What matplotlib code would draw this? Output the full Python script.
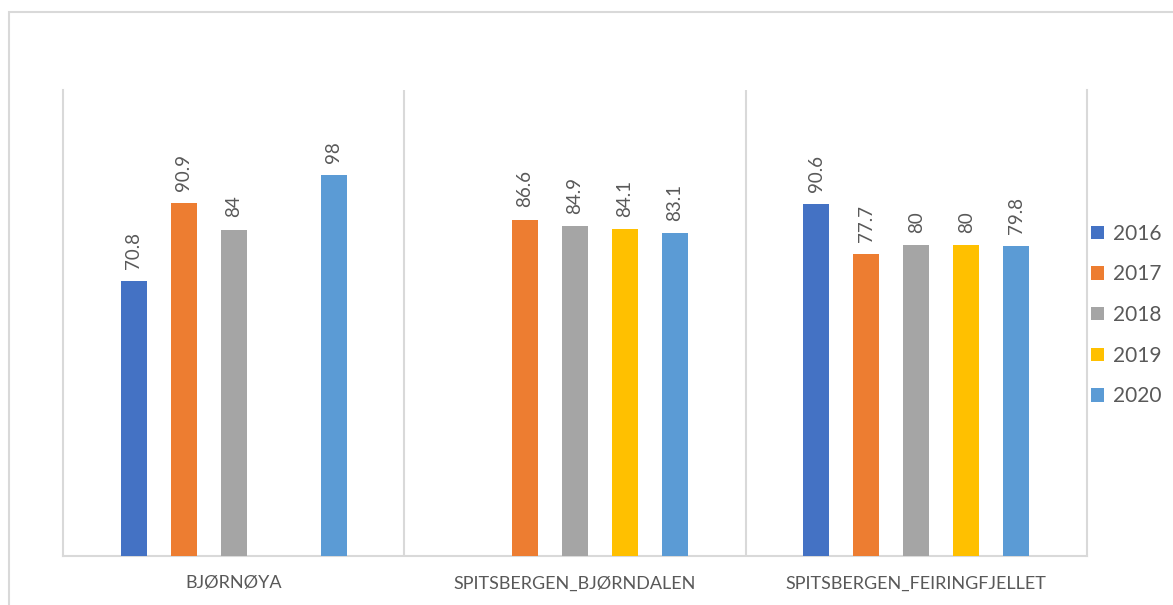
# -*- coding: utf-8 -*-
import numpy as np
import matplotlib
matplotlib.use("Agg")
import matplotlib.pyplot as plt
from matplotlib.patches import Rectangle

plt.rcParams["font.family"] = ["Lato", "DejaVu Sans"]

# dados
STASJONER = ["BJØRNØYA", "SPITSBERGEN_BJØRNDALEN", "SPITSBERGEN_FEIRINGFJELLET"]
AAR = ["2016", "2017", "2018", "2019", "2020"]
v2016 = [70.8, np.nan, 90.6]
v2017 = [90.9, 86.6, 77.7]
v2018 = [84, 84.9, 80]
v2019 = [np.nan, 84.1, 80]
v2020 = [98, 83.1, 79.8]
SERIES = [v2016, v2017, v2018, v2019, v2020]
FARGER = ["#4472C4", "#ED7D31", "#A5A5A5", "#FFC000", "#5B9BD5"]

GRA = "#d9d9d9"
TEKST = "#595959"

fig = plt.figure(figsize=(11.73, 6.05), dpi=100)
ax = fig.add_axes([63 / 1173, 49 / 605, (1087 - 63) / 1173, (556 - 90) / 605])

x = np.arange(len(STASJONER))
step = 0.1466
w = 0.076
for i, (vals, aar, farge) in enumerate(zip(SERIES, AAR, FARGER)):
    pos = x + (i - 2) * step
    vals = np.array(vals, dtype=float)
    ok = ~np.isnan(vals)
    ax.bar(pos[ok], vals[ok], width=w, color=farge, label=aar, zorder=3)
    for xp, v in zip(pos[ok], vals[ok]):
        ax.annotate(f"{v:g}", (xp, v), xytext=(0, 9), textcoords="offset points",
                    rotation=90, ha="center", va="bottom", fontsize=13.5, color=TEKST)

ax.set_xlim(-0.5, 2.5)
ax.set_ylim(0, 120)
ax.set_yticks([])
ax.set_xticks(x)
ax.set_xticklabels(STASJONER, fontsize=13, color=TEKST)
ax.tick_params(axis="x", length=0, pad=14)
for s in ["left", "right", "bottom"]:
    ax.spines[s].set_color(GRA)
    ax.spines[s].set_linewidth(1.5)
ax.spines["top"].set_visible(False)
for sep in [0.5, 1.5]:
    ax.axvline(sep, color=GRA, lw=1.5, zorder=1)

fig.legend(loc="center left", bbox_to_anchor=(1091 / 1173, (605 - 315) / 605),
           frameon=False, fontsize=15, labelcolor=TEKST, handlelength=0.6,
           handleheight=0.6, handletextpad=0.45, labelspacing=0.99,
           borderpad=0, borderaxespad=0)

# ramme rundt diagrammet
fig.add_artist(Rectangle((9 / 1173, -0.1), 1.2, 0.1 + (605 - 12) / 605,
                         transform=fig.transFigure, fill=False,
                         edgecolor=GRA, lw=1.5))

fig.savefig("out.png", dpi=100)
